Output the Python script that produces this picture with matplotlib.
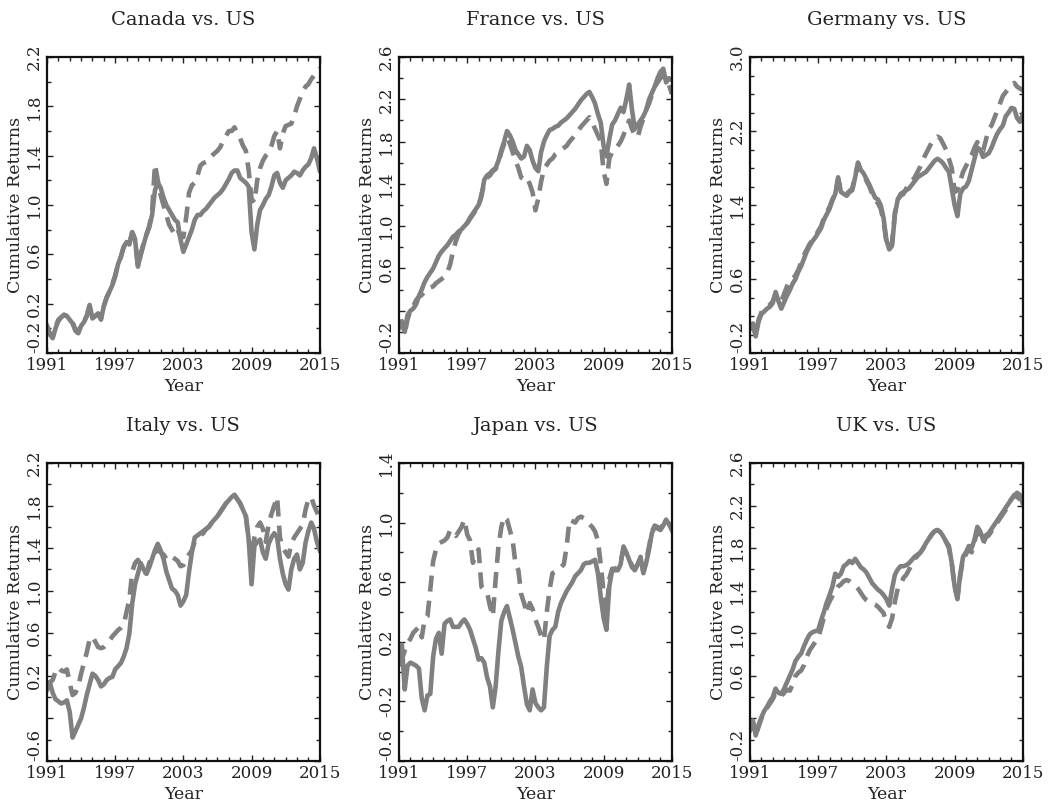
import numpy as np
import matplotlib.pyplot as plt
from matplotlib.ticker import MultipleLocator

# quarterly observations 1991.00 ... 2015.00
years = np.arange(1991, 2015.01, 0.25)

ca_solid = [0.02, -0.05, -0.08, 0.00,  0.06, 0.09, 0.11, 0.10,  0.07, 0.04, -0.02, -0.04,
            0.02, 0.05, 0.10, 0.19,  0.08, 0.10, 0.12, 0.07,  0.18, 0.25, 0.30, 0.35,
            0.42, 0.52, 0.58, 0.66,  0.70, 0.68, 0.78, 0.72,  0.50, 0.60, 0.68, 0.76,
            0.82, 0.92, 1.12, 1.18,  1.14, 1.06, 1.00, 0.96,  0.92, 0.88, 0.86, 0.72,
            0.62, 0.68, 0.74, 0.80,  0.88, 0.92, 0.92, 0.95,  0.97, 1.00, 1.03, 1.06,
            1.08, 1.10, 1.13, 1.17,  1.21, 1.26, 1.28, 1.28,  1.22, 1.20, 1.18, 1.15,
            0.78, 0.64, 0.84, 0.96,  1.00, 1.05, 1.08, 1.15,  1.24, 1.26, 1.18, 1.14,
            1.20, 1.22, 1.24, 1.27,  1.26, 1.24, 1.28, 1.31,  1.33, 1.38, 1.46, 1.38,
            1.28]
ca_dashed = [0.02, -0.04, -0.07, 0.01,  0.07, 0.09, 0.11, 0.10,  0.07, 0.05, -0.01, -0.03,
             0.03, 0.06, 0.10, 0.18,  0.09, 0.10, 0.12, 0.08,  0.18, 0.25, 0.30, 0.36,
             0.43, 0.52, 0.58, 0.66,  0.70, 0.69, 0.78, 0.72,  0.50, 0.60, 0.69, 0.76,
             0.83, 0.95, 1.33, 1.20,  1.08, 1.00, 0.92, 0.84,  0.80, 0.76, 0.80, 0.74,
             0.74, 0.90, 1.10, 1.16,  1.18, 1.24, 1.32, 1.34,  1.35, 1.36, 1.40, 1.42,
             1.44, 1.47, 1.52, 1.56,  1.60, 1.60, 1.63, 1.58,  1.54, 1.48, 1.44, 1.28,
             1.05, 1.02, 1.20, 1.30,  1.36, 1.40, 1.42, 1.48,  1.56, 1.60, 1.46, 1.58,
             1.64, 1.65, 1.66, 1.72,  1.80, 1.86, 1.92, 1.96,  1.98, 2.02, 2.05, 2.08,
             2.11]

fr_solid = [0.04, 0.10, 0.00, 0.16,  0.20, 0.22, 0.26, 0.34,  0.40, 0.47, 0.52, 0.56,
            0.60, 0.66, 0.72, 0.76,  0.79, 0.82, 0.86, 0.90,  0.92, 0.95, 0.97, 1.00,
            1.03, 1.08, 1.12, 1.16,  1.20, 1.28, 1.44, 1.48,  1.50, 1.53, 1.55, 1.62,
            1.72, 1.80, 1.90, 1.86,  1.80, 1.72, 1.68, 1.64,  1.66, 1.76, 1.72, 1.62,
            1.55, 1.52, 1.70, 1.80,  1.86, 1.91, 1.92, 1.94,  1.95, 1.98, 2.00, 2.02,
            2.05, 2.08, 2.11, 2.15,  2.19, 2.22, 2.25, 2.27,  2.22, 2.16, 2.06, 1.98,
            1.76, 1.66, 1.82, 1.96,  2.00, 2.06, 2.12, 2.08,  2.20, 2.34, 2.10, 1.92,
            1.96, 2.00, 2.04, 2.10,  2.20, 2.26, 2.32, 2.40,  2.46, 2.49, 2.36, 2.40,
            2.38]
fr_dashed = [0.04, 0.10, -0.02, 0.12,  0.20, 0.24, 0.30, 0.33,  0.35, 0.38, 0.40, 0.42,
             0.43, 0.46, 0.48, 0.50,  0.52, 0.56, 0.64, 0.76,  0.86, 0.93, 0.97, 1.00,
             1.03, 1.07, 1.11, 1.15,  1.18, 1.30, 1.40, 1.46,  1.48, 1.52, 1.54, 1.60,
             1.70, 1.78, 1.84, 1.78,  1.70, 1.62, 1.55, 1.46,  1.44, 1.46, 1.40, 1.32,
             1.15, 1.26, 1.42, 1.54,  1.58, 1.62, 1.64, 1.68,  1.70, 1.72, 1.74, 1.76,
             1.80, 1.83, 1.87, 1.90,  1.94, 1.97, 2.00, 2.03,  1.98, 1.92, 1.86, 1.80,
             1.52, 1.40, 1.64, 1.70,  1.72, 1.76, 1.80, 1.86,  1.94, 2.00, 1.92, 1.86,
             1.84, 1.94, 2.02, 2.10,  2.16, 2.24, 2.32, 2.36,  2.40, 2.42, 2.38, 2.34,
             2.25]

de_solid = [0.06, 0.10, -0.02, 0.14,  0.22, 0.25, 0.28, 0.30,  0.34, 0.46, 0.36, 0.28,
            0.35, 0.42, 0.48, 0.55,  0.60, 0.68, 0.74, 0.82,  0.90, 0.96, 1.01, 1.05,
            1.10, 1.15, 1.24, 1.30,  1.36, 1.45, 1.52, 1.70,  1.54, 1.52, 1.50, 1.54,
            1.56, 1.70, 1.86, 1.78,  1.74, 1.68, 1.62, 1.55,  1.48, 1.46, 1.40, 1.26,
            1.02, 0.92, 0.96, 1.30,  1.46, 1.52, 1.54, 1.56,  1.58, 1.62, 1.66, 1.70,
            1.72, 1.74, 1.76, 1.80,  1.84, 1.88, 1.90, 1.88,  1.85, 1.80, 1.76, 1.58,
            1.40, 1.28, 1.52, 1.58,  1.60, 1.66, 1.78, 1.90,  2.02, 2.00, 1.92, 1.94,
            1.96, 2.02, 2.10, 2.17,  2.22, 2.26, 2.36, 2.40,  2.45, 2.44, 2.34, 2.30,
            2.38]
de_dashed = [0.06, 0.12, 0.00, 0.16,  0.24, 0.27, 0.30, 0.32,  0.36, 0.44, 0.40, 0.36,
             0.44, 0.52, 0.58, 0.60,  0.64, 0.70, 0.78, 0.86,  0.92, 0.98, 1.02, 1.06,
             1.12, 1.17, 1.26, 1.32,  1.38, 1.46, 1.52, 1.68,  1.56, 1.54, 1.52, 1.55,
             1.58, 1.72, 1.84, 1.76,  1.72, 1.66, 1.60, 1.52,  1.46, 1.42, 1.36, 1.22,
             1.00, 0.92, 1.00, 1.32,  1.46, 1.50, 1.52, 1.58,  1.62, 1.66, 1.70, 1.76,
             1.82, 1.90, 1.96, 2.02,  2.08, 2.12, 2.14, 2.12,  2.06, 2.00, 1.90, 1.80,
             1.54, 1.56, 1.66, 1.76,  1.82, 1.88, 1.94, 2.02,  2.08, 2.02, 1.98, 2.10,
             2.22, 2.26, 2.34, 2.42,  2.50, 2.58, 2.62, 2.66,  2.70, 2.72, 2.68, 2.66,
             2.64]

it_solid = [0.07, 0.14, 0.04, -0.02,  -0.04, -0.06, -0.05, -0.03,  -0.14, -0.38, -0.32, -0.26,
            -0.20, -0.10, 0.02, 0.12,  0.22, 0.20, 0.16, 0.10,  0.12, 0.16, 0.18, 0.19,
            0.26, 0.29, 0.32, 0.38,  0.46, 0.60, 0.88, 1.06,  1.16, 1.26, 1.20, 1.16,
            1.22, 1.30, 1.38, 1.44,  1.38, 1.30, 1.18, 1.10,  1.02, 1.00, 0.96, 0.86,
            0.90, 0.96, 1.18, 1.36,  1.50, 1.52, 1.54, 1.56,  1.58, 1.60, 1.64, 1.67,
            1.70, 1.74, 1.78, 1.82,  1.85, 1.88, 1.90, 1.86,  1.82, 1.76, 1.70, 1.48,
            1.06, 1.42, 1.46, 1.48,  1.36, 1.30, 1.44, 1.50,  1.54, 1.50, 1.30, 1.16,
            1.06, 1.01, 1.20, 1.30,  1.34, 1.20, 1.26, 1.45,  1.56, 1.64, 1.58, 1.46,
            1.38]
it_dashed = [0.10, 0.14, 0.16, 0.24,  0.28, 0.25, 0.24, 0.26,  0.13, 0.02, 0.04, 0.10,
             0.22, 0.32, 0.42, 0.54,  0.57, 0.52, 0.47, 0.46,  0.47, 0.50, 0.53, 0.57,
             0.60, 0.63, 0.65, 0.68,  0.80, 0.92, 1.18, 1.26,  1.29, 1.24, 1.18, 1.16,
             1.26, 1.32, 1.36, 1.38,  1.36, 1.34, 1.30, 1.29,  1.32, 1.30, 1.28, 1.23,
             1.24, 1.29, 1.34, 1.38,  1.46, 1.48, 1.52, 1.54,  1.58, 1.60, 1.64, 1.67,
             1.70, 1.74, 1.78, 1.82,  1.85, 1.88, 1.90, 1.86,  1.82, 1.76, 1.70, 1.48,
             1.30, 1.50, 1.60, 1.64,  1.58, 1.46, 1.62, 1.72,  1.80, 1.88, 1.50, 1.40,
             1.36, 1.32, 1.44, 1.50,  1.54, 1.58, 1.62, 1.76,  1.86, 1.88, 1.80, 1.74,
             1.67]

jp_solid = [0.05, 0.18, -0.12, 0.04,  0.06, 0.05, 0.04, 0.02,  -0.18, -0.26, -0.16, -0.15,
            0.10, 0.22, 0.26, 0.12,  0.32, 0.34, 0.35, 0.30,  0.30, 0.30, 0.33, 0.35,
            0.32, 0.28, 0.22, 0.16,  0.08, 0.09, 0.06, -0.04,  -0.10, -0.24, -0.10, 0.14,
            0.34, 0.40, 0.44, 0.36,  0.28, 0.19, 0.10, 0.03,  -0.10, -0.22, -0.26, -0.12,
            -0.21, -0.24, -0.26, -0.24,  0.03, 0.24, 0.28, 0.30,  0.40, 0.46, 0.50, 0.54,
            0.57, 0.60, 0.64, 0.66,  0.68, 0.72, 0.73, 0.73,  0.74, 0.75, 0.66, 0.50,
            0.36, 0.28, 0.57, 0.68,  0.68, 0.68, 0.72, 0.84,  0.80, 0.75, 0.70, 0.68,
            0.72, 0.77, 0.66, 0.73,  0.82, 0.93, 0.97, 0.96,  0.95, 0.98, 1.02, 0.99,
            0.95]
jp_dashed = [0.05, 0.08, 0.14, 0.19,  0.22, 0.26, 0.28, 0.30,  0.23, 0.35, 0.37, 0.55,
             0.74, 0.82, 0.86, 0.87,  0.88, 0.90, 0.95, 0.93,  0.91, 0.94, 0.97, 1.02,
             0.92, 0.88, 0.73, 0.78,  0.82, 0.57, 0.55, 0.53,  0.44, 0.37, 0.62, 0.84,
             0.97, 1.04, 1.02, 0.95,  0.88, 0.72, 0.68, 0.52,  0.46, 0.39, 0.46, 0.42,
             0.35, 0.30, 0.24, 0.21,  0.40, 0.55, 0.66, 0.67,  0.68, 0.70, 0.72, 0.84,
             1.02, 1.01, 1.00, 1.03,  1.04, 1.03, 1.02, 0.99,  0.97, 0.94, 0.88, 0.72,
             0.53, 0.39, 0.62, 0.69,  0.69, 0.70, 0.74, 0.82,  0.79, 0.76, 0.71, 0.69,
             0.72, 0.76, 0.67, 0.74,  0.84, 0.94, 0.98, 0.97,  0.96, 0.99, 1.01, 1.00,
             0.97]

uk_solid = [0.09, 0.18, 0.04, 0.14,  0.21, 0.27, 0.31, 0.36,  0.40, 0.48, 0.44, 0.43,
            0.48, 0.54, 0.60, 0.66,  0.74, 0.78, 0.81, 0.88,  0.94, 0.99, 1.01, 1.02,
            1.03, 1.12, 1.20, 1.29,  1.36, 1.44, 1.56, 1.53,  1.56, 1.63, 1.65, 1.68,
            1.66, 1.70, 1.66, 1.62,  1.60, 1.57, 1.52, 1.47,  1.44, 1.41, 1.39, 1.36,
            1.32, 1.26, 1.42, 1.55,  1.60, 1.63, 1.63, 1.64,  1.66, 1.69, 1.72, 1.74,
            1.76, 1.80, 1.85, 1.89,  1.93, 1.96, 1.97, 1.95,  1.91, 1.86, 1.82, 1.66,
            1.44, 1.32, 1.56, 1.72,  1.76, 1.82, 1.80, 1.88,  2.00, 1.96, 1.88, 1.92,
            1.94, 1.98, 2.02, 2.06,  2.10, 2.14, 2.18, 2.22,  2.26, 2.29, 2.32, 2.30,
            2.22]
uk_dashed = [0.09, 0.16, 0.04, 0.12,  0.20, 0.26, 0.30, 0.34,  0.38, 0.44, 0.42, 0.41,
             0.44, 0.47, 0.46, 0.52,  0.60, 0.63, 0.65, 0.70,  0.78, 0.84, 0.88, 0.92,
             0.96, 1.05, 1.15, 1.24,  1.30, 1.35, 1.40, 1.44,  1.46, 1.49, 1.50, 1.49,
             1.47, 1.45, 1.42, 1.38,  1.34, 1.31, 1.29, 1.28,  1.27, 1.25, 1.22, 1.19,
             1.10, 1.06, 1.14, 1.30,  1.42, 1.46, 1.52, 1.55,  1.60, 1.65, 1.70, 1.73,
             1.76, 1.80, 1.85, 1.89,  1.93, 1.96, 1.97, 1.95,  1.91, 1.86, 1.80, 1.66,
             1.44, 1.34, 1.54, 1.70,  1.74, 1.80, 1.76, 1.86,  1.96, 1.92, 1.84, 1.90,
             1.92, 1.96, 2.00, 2.04,  2.08, 2.12, 2.16, 2.22,  2.26, 2.30, 2.28, 2.26,
             2.20]

titles = ['Canada vs. US', 'France vs. US', 'Germany vs. US',
          'Italy vs. US', 'Japan vs. US', 'UK vs. US']
solid_series = [ca_solid, fr_solid, de_solid, it_solid, jp_solid, uk_solid]
dashed_series = [ca_dashed, fr_dashed, de_dashed, it_dashed, jp_dashed, uk_dashed]

ca_yticks = ['-0.2', '0.2', '0.6', '1.0', '1.4', '1.8', '2.2']
fr_yticks = ['-0.2', '', '0.6', '1.0', '1.4', '1.8', '2.2', '2.6']
de_yticks = ['-0.2', '0.6', '1.4', '2.2', '3.0']
it_yticks = ['-0.6', '', '0.2', '0.6', '1.0', '1.4', '1.8', '2.2']
jp_yticks = ['-0.6', '-0.2', '0.2', '0.6', '1.0', '1.4']
uk_yticks = ['-0.2', '', '0.6', '1.0', '1.4', '1.8', '2.2', '2.6']
ytick_labels = [ca_yticks, fr_yticks, de_yticks, it_yticks, jp_yticks, uk_yticks]
ymin = [-0.2, -0.2, -0.2, -0.6, -0.6, -0.2]
ystep = [0.4, 0.4, 0.8, 0.4, 0.4, 0.4]

xtick_years = [1991, 1997, 2003, 2009, 2015]

plt.rcParams['font.family'] = 'DejaVu Serif'
plt.rcParams['text.color'] = '#222222'
plt.rcParams['axes.labelcolor'] = '#222222'
plt.rcParams['xtick.color'] = '#222222'
plt.rcParams['ytick.color'] = '#222222'

fig = plt.figure(figsize=(10.49, 8.08), dpi=100)
lefts = [0.0448, 0.3804, 0.7150]
bottoms = [0.5631, 0.0582]
width = 0.2600
heights = [0.3663, 0.3688]
gray = '#808080'

for i in range(6):
    row, col = divmod(i, 3)
    ax = fig.add_axes([lefts[col], bottoms[row], width, heights[row]])
    ax.plot(years, dashed_series[i], color=gray, lw=3.3, dashes=(3.5, 2.0),
            dash_capstyle='butt')
    ax.plot(years, solid_series[i], color=gray, lw=3.3)

    labels = ytick_labels[i]
    ticks = [ymin[i] + k * ystep[i] for k in range(len(labels))]
    ax.set_ylim(ticks[0], ticks[-1])
    ax.set_yticks(ticks)
    ax.set_yticklabels(labels, rotation=90, va='center')
    ax.get_yticklabels()[0].set_va('bottom')
    ax.yaxis.set_minor_locator(MultipleLocator(0.2))

    ax.set_xlim(1991, 2015)
    ax.set_xticks(xtick_years)
    ax.set_xticklabels([str(y) for y in xtick_years])
    ax.xaxis.set_minor_locator(MultipleLocator(1))

    ax.tick_params(which='both', direction='in', top=True, right=True,
                   width=1.0, labelsize=12)
    ax.tick_params(which='major', length=4, pad=3)
    ax.tick_params(which='minor', length=3)
    for s in ax.spines.values():
        s.set_linewidth(1.6)
        s.set_color('#111111')

    ax.set_title(titles[i], fontsize=14, pad=23)
    ax.set_xlabel('Year', fontsize=12.5, labelpad=3)
    ax.set_ylabel('Cumulative Returns', fontsize=12.5, labelpad=1)

fig.savefig('out.png', dpi=100)
